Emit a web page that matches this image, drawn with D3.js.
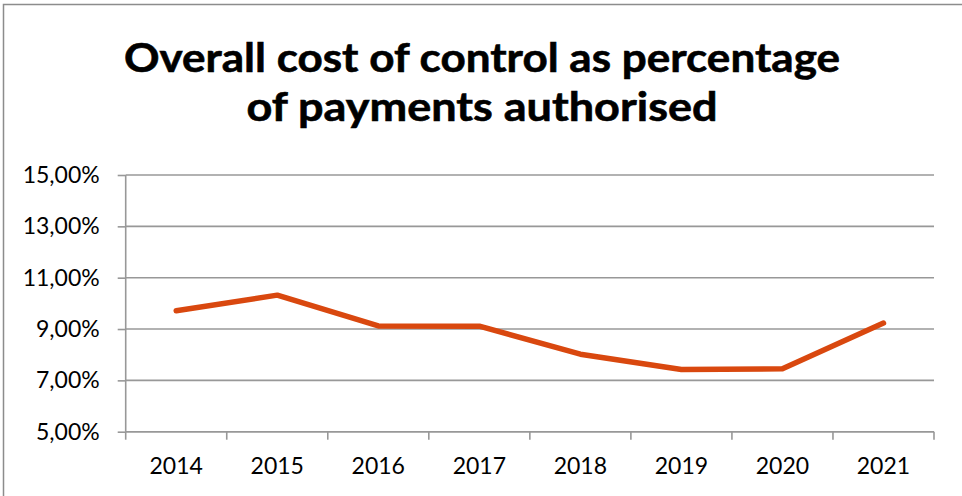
<!DOCTYPE html>
<html>
<head>
<meta charset="utf-8">
<script src="https://cdn.jsdelivr.net/npm/d3@7/dist/d3.min.js"></script>
<style>
  html, body { margin: 0; padding: 0; background: #fff; }
  svg { display: block; }
</style>
</head>
<body>
<svg id="chart" width="962" height="496"></svg>
<script>
// Overall cost of control as a share of payments authorised, per year
const years = ["2014", "2015", "2016", "2017", "2018", "2019", "2020", "2021"];
const costPct = [9.71, 10.32, 9.12, 9.11, 8.02, 7.42, 7.45, 9.23];
const yTicks = [5, 7, 9, 11, 13, 15];
const titleLines = ["Overall cost of control as percentage", "of payments authorised"];

const W = 962, H = 496;
const plot = { left: 125.7, right: 934, top: 175, bottom: 431.7 };

const svg = d3.select("#chart");

// outer chart frame
svg.append("rect")
  .attr("x", 3.5).attr("y", 4.5)
  .attr("width", W + 10).attr("height", H + 10)
  .attr("fill", "#fff")
  .attr("stroke", "#8c8c8c").attr("stroke-width", 1.5);

// title
const titleFont = "Lato, 'Open Sans', sans-serif";
const titleWidths = [716, 471];
svg.selectAll("text.title")
  .data(titleLines)
  .join("text")
  .attr("class", "title")
  .attr("x", 482)
  .attr("y", (d, i) => 72 + i * 49)
  .attr("text-anchor", "middle")
  .attr("font-family", titleFont)
  .attr("font-weight", 700)
  .attr("font-size", 40)
  .attr("fill", "#000")
  .attr("stroke", "#000")
  .attr("stroke-width", 0.6)
  .attr("textLength", (d, i) => titleWidths[i])
  .attr("lengthAdjust", "spacingAndGlyphs")
  .text(d => d);

const x = d3.scaleBand().domain(years).range([plot.left, plot.right]).padding(0);
const y = d3.scaleLinear().domain([5, 15]).range([plot.bottom, plot.top]);

const fmt = v => d3.format(".2f")(v).replace(".", ",") + "%";
const gridColor = "#989898";
const tickFont = "Lato, 'Open Sans', sans-serif";

// horizontal gridlines
svg.append("g")
  .selectAll("line")
  .data(yTicks)
  .join("line")
  .attr("x1", plot.left).attr("x2", plot.right)
  .attr("y1", d => y(d)).attr("y2", d => y(d))
  .attr("stroke", gridColor).attr("stroke-width", 1.6);

// y axis
const yAxis = svg.append("g")
  .attr("transform", `translate(${plot.left},0)`)
  .call(d3.axisLeft(y).tickValues(yTicks).tickFormat(fmt).tickSize(8).tickPadding(18));
yAxis.select(".domain").attr("stroke", gridColor).attr("stroke-width", 1.6)
  .attr("d", `M0,${plot.top}V${plot.bottom}`);
yAxis.selectAll(".tick line").attr("stroke", gridColor).attr("stroke-width", 1.6);
yAxis.selectAll(".tick text")
  .attr("font-family", tickFont)
  .attr("font-size", 23)
  .attr("fill", "#000");

// x axis: tick marks on category boundaries, labels centred in each band
const xAxisG = svg.append("g").attr("transform", `translate(0,${plot.bottom})`);
xAxisG.append("line")
  .attr("x1", plot.left).attr("x2", plot.right)
  .attr("stroke", gridColor).attr("stroke-width", 1.6);
const bounds = years.map(d => x(d)).concat([x(years[years.length - 1]) + x.bandwidth()]);
xAxisG.selectAll("line.tk")
  .data(bounds)
  .join("line")
  .attr("class", "tk")
  .attr("x1", d => d).attr("x2", d => d)
  .attr("y1", 0).attr("y2", 8)
  .attr("stroke", gridColor).attr("stroke-width", 1.6);
xAxisG.selectAll("text")
  .data(years)
  .join("text")
  .attr("x", d => x(d) + x.bandwidth() / 2)
  .attr("y", 42.5)
  .attr("text-anchor", "middle")
  .attr("font-family", tickFont)
  .attr("font-size", 23)
  .attr("fill", "#000")
  .text(d => d);

// data line
const line = d3.line()
  .x((d, i) => x(years[i]) + x.bandwidth() / 2)
  .y(d => y(d));
svg.append("path")
  .datum(costPct)
  .attr("d", line)
  .attr("fill", "none")
  .attr("stroke", "#D9480F")
  .attr("stroke-width", 5.5)
  .attr("stroke-linecap", "round")
  .attr("stroke-linejoin", "round");
</script>
</body>
</html>
